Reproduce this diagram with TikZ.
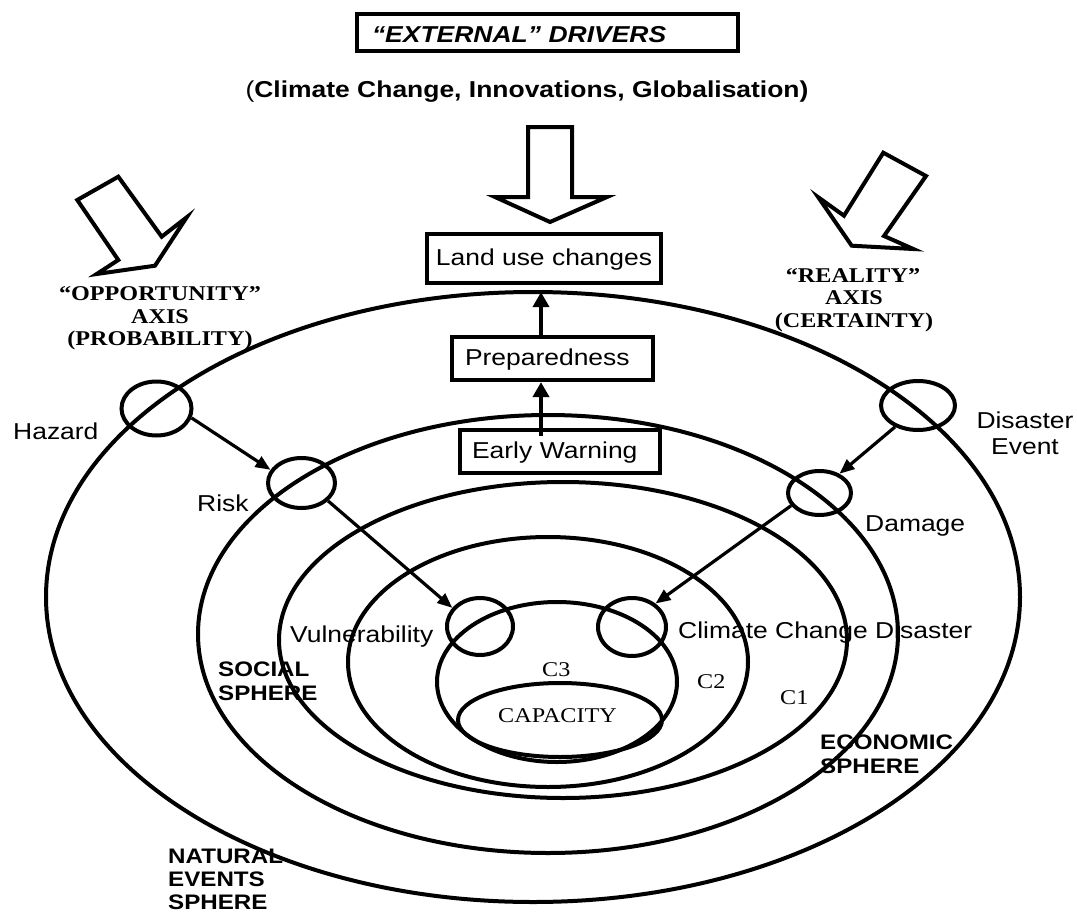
\documentclass[tikz,border=0pt]{standalone}
\usepackage{fontspec}
\setmainfont{Liberation Serif}[FakeStretch=1.15]
\setsansfont{Liberation Sans}[FakeStretch=1.15]
\usetikzlibrary{arrows.meta,shapes.geometric}

\begin{document}
\begin{tikzpicture}[x=1pt,y=-1pt,
  sphere/.style={line width=4pt},
  spot/.style={draw, ellipse, line width=4pt, inner sep=0pt},
  boxed/.style={draw, line width=4.2pt, inner sep=0pt,
    font=\sffamily\fontsize{23}{27}\selectfont, text height=17pt, text depth=3pt},
  block/.style={line width=4pt, line join=miter, miter limit=25},
  link/.style={line width=3.2pt, -{Triangle[length=15pt,width=12pt]}},
  rise/.style={line width=4.2pt, -{Triangle[length=15pt,width=16pt]}},
  lbl/.style={inner sep=0pt, font=\sffamily\fontsize{23}{27}\selectfont},
  zone/.style={inner sep=0pt, font=\sffamily\bfseries\fontsize{21}{24}\selectfont},
  axislbl/.style={inner sep=0pt, font=\rmfamily\bfseries\fontsize{21}{24}\selectfont},
  cls/.style={inner sep=0pt, font=\rmfamily\fontsize{21}{24}\selectfont}
]
\useasboundingbox (0,0) rectangle (1077,913);

% nested spheres
\draw[sphere] (533,597) ellipse [x radius=487pt, y radius=305pt];
\draw[sphere] (548,634) ellipse [x radius=350pt, y radius=219pt];
\draw[sphere] (563,640) ellipse [x radius=284pt, y radius=158pt];
\draw[sphere] (548,662) ellipse [x radius=200pt, y radius=125pt];
\draw[sphere] (557,682) ellipse [x radius=120pt, y radius=80pt];
\draw[sphere] (560,720) ellipse [x radius=102pt, y radius=37pt];

% block arrows of the external drivers
\draw[block] (528,127) -- (572,127) -- (572,197) -- (607,197) -- (550,222)
  -- (495,197) -- (528,197) -- cycle;
\draw[block] (118.3,176.7) -- (77.3,200) -- (118.3,260) -- (96.7,274)
  -- (155,265.7) -- (186.7,217.3) -- (161.7,236.7) -- cycle;
\draw[block] (883.3,152.7) -- (926,176) -- (884,236) -- (913.3,249)
  -- (851.7,245.7) -- (818.3,197.3) -- (844,215.7) -- cycle;

% header
\node[boxed, font=\sffamily\bfseries\itshape\fontsize{23}{27}\selectfont,
  minimum width=381pt, minimum height=37pt, text width=351pt, inner xsep=15pt,
  align=left, text height=19pt, text depth=0pt] (ext) at (547.5,32.5) {“EXTERNAL” DRIVERS};
\node[lbl, anchor=base] (drv) at (527,97)
  {(\textbf{Climate Change, Innovations, Globalisation)}};

% response chain
\node[boxed, minimum width=234pt, minimum height=49pt] (lu) at (544,258.5) {Land use changes};
\node[boxed, minimum width=201pt, minimum height=43pt, text width=175pt,
  inner xsep=13pt, align=left] (prep) at (552.5,358.5) {Preparedness};
\node[boxed, minimum width=200pt, minimum height=43pt, text width=176pt,
  inner xsep=12pt, align=left] (ew) at (560,451.5) {Early Warning};
\coordinate (mid) at (541,0);
\draw[rise, shorten <=-8pt] (ew.north -| mid) -- (prep.south -| mid);
\draw[rise, shorten >=7pt] (prep.north -| mid) -- (lu.south -| mid);

% spots on the spheres
\node[spot, minimum width=70pt, minimum height=54pt] (haz) at (156.5,408.5) {};
\node[spot, minimum width=67pt, minimum height=50pt] (risk) at (301.5,483) {};
\node[spot, minimum width=74pt, minimum height=49pt] (dis) at (918,405.5) {};
\node[spot, minimum width=63pt, minimum height=44pt] (dam) at (819.5,493) {};
\node[spot, minimum width=66pt, minimum height=57pt] (vul) at (480,626.5) {};
\node[spot, minimum width=68pt, minimum height=58pt] (ccd) at (632,627) {};

\draw[link] (haz.-15) -- (risk.157);
\draw[link] (risk.-34) -- (vul.146);
\draw[link] (dis.-137) -- (dam.44);
\draw[link] (dam.204) -- (ccd.45);

% spot labels
\node[lbl, anchor=base west] (tHaz) at (13,439) {Hazard};
\node[lbl, anchor=base west] (tRisk) at (197,511) {Risk};
\node[lbl, anchor=base] (tDis) at (1025,428) {Disaster};
\node[lbl, anchor=base] (tEvt) at (1025,454) {Event};
\node[lbl, anchor=base west] (tDam) at (865,531) {Damage};
\node[lbl, anchor=base west] (tVul) at (290,642) {Vulnerability};
\node[lbl, anchor=base west] (tCcd) at (678,638) {Climate Change Disaster};

% axis labels
\node[axislbl, anchor=base] (o1) at (160,300) {“OPPORTUNITY”};
\node[axislbl, anchor=base] (o2) at (160,323) {AXIS};
\node[axislbl, anchor=base] (o3) at (160,345) {(PROBABILITY)};
\node[axislbl, anchor=base] (r1) at (853,282) {“REALITY”};
\node[axislbl, anchor=base] (r2) at (854,304) {AXIS};
\node[axislbl, anchor=base] (r3) at (854,327) {(CERTAINTY)};

% sphere names
\node[zone, anchor=base west] (s1) at (218,676) {SOCIAL};
\node[zone, anchor=base west] (s2) at (218,700) {SPHERE};
\node[zone, anchor=base west] (e1) at (820,749) {ECONOMIC};
\node[zone, anchor=base west] (e2) at (820,773) {SPHERE};
\node[zone, anchor=base west] (n1) at (168,863) {NATURAL};
\node[zone, anchor=base west] (n2) at (168,886) {EVENTS};
\node[zone, anchor=base west] (n3) at (168,909) {SPHERE};

% capacity rings
\node[cls, anchor=base west] (c3) at (542,676) {C3};
\node[cls, anchor=base west] (c2) at (697,688) {C2};
\node[cls, anchor=base west] (c1) at (780,704) {C1};
\node[cls, anchor=base] (cap) at (557.5,722) {CAPACITY};
\end{tikzpicture}
\end{document}
